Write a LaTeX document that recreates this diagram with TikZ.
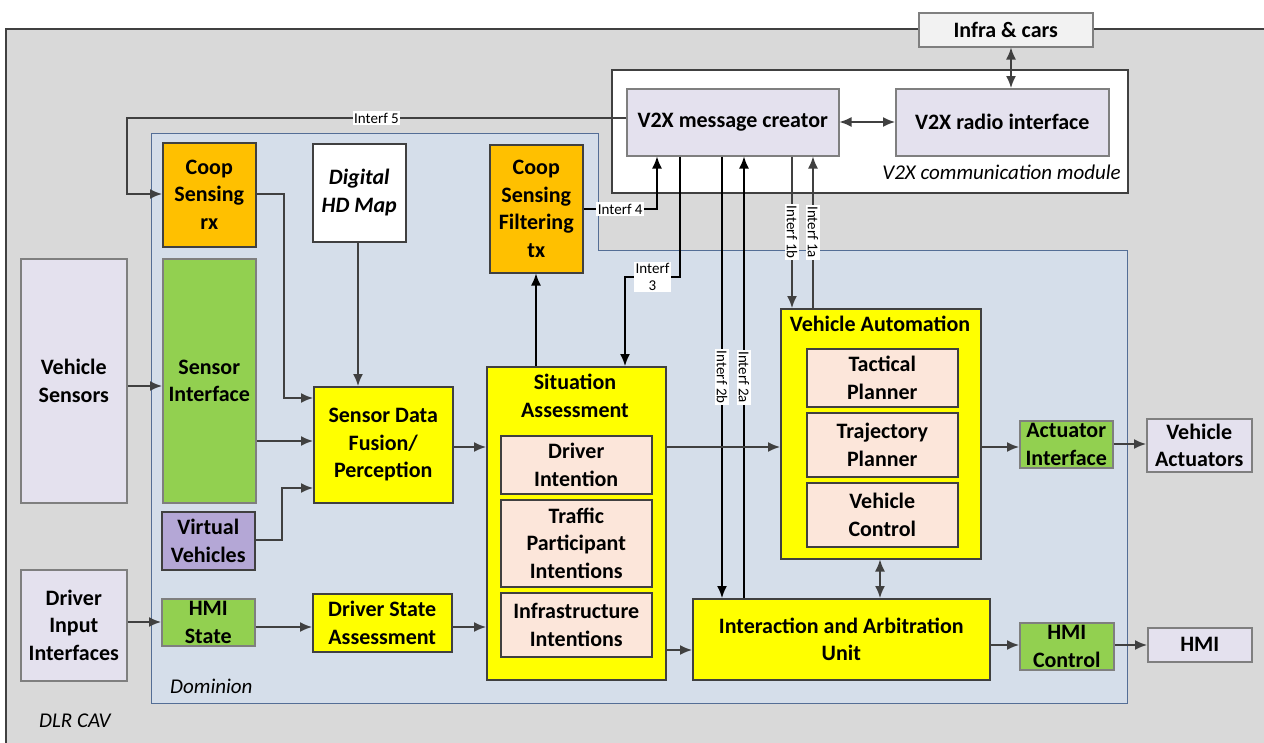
\documentclass[tikz,border=0pt]{standalone}
\usepackage{fontspec}
\setmainfont{Carlito}
\usetikzlibrary{arrows.meta}
\definecolor{bggray}{RGB}{217,217,217}
\definecolor{domfill}{RGB}{213,222,234}
\definecolor{domline}{RGB}{84,110,150}
\definecolor{dark}{RGB}{64,64,64}
\definecolor{lav}{RGB}{228,225,238}
\definecolor{lavline}{RGB}{127,127,127}
\definecolor{orng}{RGB}{255,192,0}
\definecolor{grn}{RGB}{146,208,80}
\definecolor{ylw}{RGB}{255,255,0}
\definecolor{peach}{RGB}{252,230,218}
\definecolor{purp}{RGB}{180,167,214}
\definecolor{infra}{RGB}{242,242,242}
\begin{document}
\begin{tikzpicture}[x=1pt,y=-1pt,
  box/.style={draw=dark, line width=1.5pt, inner sep=0pt, align=center, anchor=north west,
    font=\bfseries\fontsize{22}{27.5}\selectfont},
  lavbox/.style={box, draw=lavline, fill=lav},
  ttl/.style={inner sep=0pt, align=center, font=\bfseries\fontsize{22}{27.5}\selectfont},
  ital/.style={inner sep=0pt, font=\itshape\fontsize{21}{25}\selectfont},
  arr/.style={draw=dark, line width=1.6pt, -{Latex[length=12pt,width=10pt]}},
  blk/.style={draw=black, line width=1.6pt, -{Latex[length=12pt,width=10pt]}},
  dbl/.style={draw=dark, line width=1.6pt, {Latex[length=12pt,width=10pt]}-{Latex[length=12pt,width=10pt]}},
  lbl/.style={fill=white, inner sep=1.5pt, align=center, font=\fontsize{15}{17}\selectfont},
]
\useasboundingbox (0,0) rectangle (1264,742);
% outer DLR CAV
\draw[fill=bggray, draw=dark, line width=2pt] (6,29) rectangle (1290,770);
\node[ital, anchor=west] (dlr) at (39,721) {DLR CAV};
% Dominion
\draw[fill=domfill, draw=domline, line width=1pt] (151,133) -- (598,133) -- (598,250) -- (1127,250) -- (1127,703) -- (151,703) -- cycle;
\node[ital, anchor=west] (dom) at (170,686) {Dominion};
% V2X module
\node[box, fill=white, minimum width=516pt, minimum height=123pt] (v2xmod) at (611,69) {};
\node[ital, anchor=east] (v2xlbl) at (1121,172) {V2X communication module};
\node[box, fill=infra, draw=lavline, minimum width=174pt, minimum height=34pt] (infra) at (918,12) {Infra \& cars};
\node[lavbox, minimum width=212pt, minimum height=67pt] (msg) at (626,88) {V2X message creator};
\node[lavbox, minimum width=213pt, minimum height=67pt] (radio) at (895,88) {V2X radio interface};

% left column
\node[box, fill=orng, minimum width=93pt, minimum height=104pt] (coopRx) at (162,142) {Coop\\Sensing\\rx};
\node[box, fill=white, minimum width=93pt, minimum height=98pt, font=\bfseries\itshape\fontsize{22}{27.5}\selectfont] (hdmap) at (312,143) {Digital\\HD Map};
\node[box, fill=orng, minimum width=93pt, minimum height=128pt] (coopTx) at (489,144) {Coop\\Sensing\\Filtering\\tx};
\node[lavbox, minimum width=106pt, minimum height=244pt] (vsens) at (20,258) {Vehicle\\Sensors};
\node[box, fill=grn, draw=lavline, minimum width=93pt, minimum height=244pt] (sensIf) at (162,258) {Sensor\\Interface};
\node[box, fill=purp, minimum width=93pt, minimum height=58pt] (virt) at (161,511) {Virtual\\Vehicles};
\node[box, fill=ylw, minimum width=139pt, minimum height=116pt] (fusion) at (313,386) {Sensor Data\\Fusion/\\Perception};
\node[lavbox, minimum width=106pt, minimum height=111pt] (drvIn) at (20,569) {Driver\\Input\\Interfaces};
\node[box, fill=grn, draw=lavline, minimum width=93pt, minimum height=47pt] (hmiState) at (161,598) {HMI\\State};
\node[box, fill=ylw, minimum width=139pt, minimum height=58pt] (dsa) at (312,593) {Driver State\\Assessment};

% situation assessment
\node[box, fill=ylw, minimum width=179pt, minimum height=313pt] (sitA) at (486,366) {};
\node[ttl] (sitAt) at (575,396) {Situation\\Assessment};
\node[box, fill=peach, minimum width=151pt, minimum height=58pt] (drvInt) at (500,435) {Driver\\Intention};
\node[box, fill=peach, minimum width=151pt, minimum height=87pt] (traffic) at (500,499) {Traffic\\Participant\\Intentions};
\node[box, fill=peach, minimum width=151pt, minimum height=64pt] (infraInt) at (500,592) {Infrastructure\\Intentions};

% vehicle automation
\node[box, fill=ylw, minimum width=200pt, minimum height=250pt] (vAuto) at (780,308) {};
\node[ttl] (vAutot) at (880,324) {Vehicle Automation};
\node[box, fill=peach, minimum width=151pt, minimum height=58pt] (tact) at (806,348) {Tactical\\Planner};
\node[box, fill=peach, minimum width=151pt, minimum height=64pt] (traj) at (806,412) {Trajectory\\Planner};
\node[box, fill=peach, minimum width=151pt, minimum height=64pt] (vctrl) at (806,482) {Vehicle\\Control};

\node[box, fill=grn, draw=lavline, minimum width=93pt, minimum height=47pt] (actIf) at (1019,420) {Actuator\\Interface};
\node[lavbox, minimum width=105pt, minimum height=53pt] (vAct) at (1146,418) {Vehicle\\Actuators};
\node[box, fill=ylw, minimum width=297pt, minimum height=81pt] (iau) at (692,598) {Interaction and Arbitration\\Unit};
\node[box, fill=grn, draw=lavline, minimum width=94pt, minimum height=47pt] (hmiCtrl) at (1019,622) {HMI\\Control};
\node[lavbox, minimum width=104pt, minimum height=34pt] (hmi) at (1147,627) {HMI};

% connectors
\draw[dbl] (msg.east |- 0,122) -- (radio.west |- 0,122);
\draw[dbl] (infra.south -| 1011,0) -- (radio.north -| 1011,0);
\draw[arr] (msg.west |- 0,118) -- node[lbl] {Interf 5} (127,118) -- (127,194) -- (coopRx.west |- 0,194);
\draw[arr] (coopRx.east |- 0,194) -- (284,194) -- (284,398) -- (fusion.west |- 0,398);
\draw[arr] (hdmap.south -| 358,0) -- (fusion.north -| 358,0);
\draw[arr] (vsens.east |- 0,386) -- (sensIf.west |- 0,386);
\draw[arr] (sensIf.east |- 0,441) -- (fusion.west |- 0,441);
\draw[arr] (virt.east |- 0,540) -- (282,540) -- (282,488) -- (fusion.west |- 0,488);
\draw[arr] (fusion.east |- 0,447) -- (sitA.west |- 0,447);
\draw[blk] (sitA.north -| 536,0) -- (coopTx.south -| 536,0);
\draw[blk] (coopTx.east |- 0,209) -- node[lbl] {Interf 4} (657,209) -- (msg.south -| 657,0);
\draw[blk] (msg.south -| 680,0) -- (680,277) -- node[lbl] {Interf\\3} (625,277) -- (sitA.north -| 625,0);
\draw[blk] (msg.south -| 722,0) -- node[lbl, rotate=-90] {Interf 2b} (iau.north -| 722,0);
\draw[blk] (iau.north -| 744,0) -- node[lbl, rotate=-90] {Interf 2a} (msg.south -| 744,0);
\draw[arr] (msg.south -| 792,0) -- node[lbl, rotate=-90] {Interf 1b} (vAuto.north -| 792,0);
\draw[arr] (vAuto.north -| 813,0) -- node[lbl, rotate=-90] {Interf 1a} (msg.south -| 813,0);
\draw[arr] (sitA.east |- 0,447) -- (vAuto.west |- 0,447);
\draw[arr] (vAuto.east |- 0,447) -- (actIf.west |- 0,447);
\draw[arr] (actIf.east |- 0,444) -- (vAct.west |- 0,444);
\draw[dbl] (vAuto.south -| 880,0) -- (iau.north -| 880,0);
\draw[arr] (sitA.east |- 0,650) -- (iau.west |- 0,650);
\draw[arr] (iau.east |- 0,645) -- (hmiCtrl.west |- 0,645);
\draw[arr] (hmiCtrl.east |- 0,645) -- (hmi.west |- 0,645);
\draw[arr] (drvIn.east |- 0,622) -- (hmiState.west |- 0,622);
\draw[arr] (hmiState.east |- 0,627) -- (dsa.west |- 0,627);
\draw[arr] (dsa.east |- 0,627) -- (sitA.west |- 0,627);
\end{tikzpicture}
\end{document}
